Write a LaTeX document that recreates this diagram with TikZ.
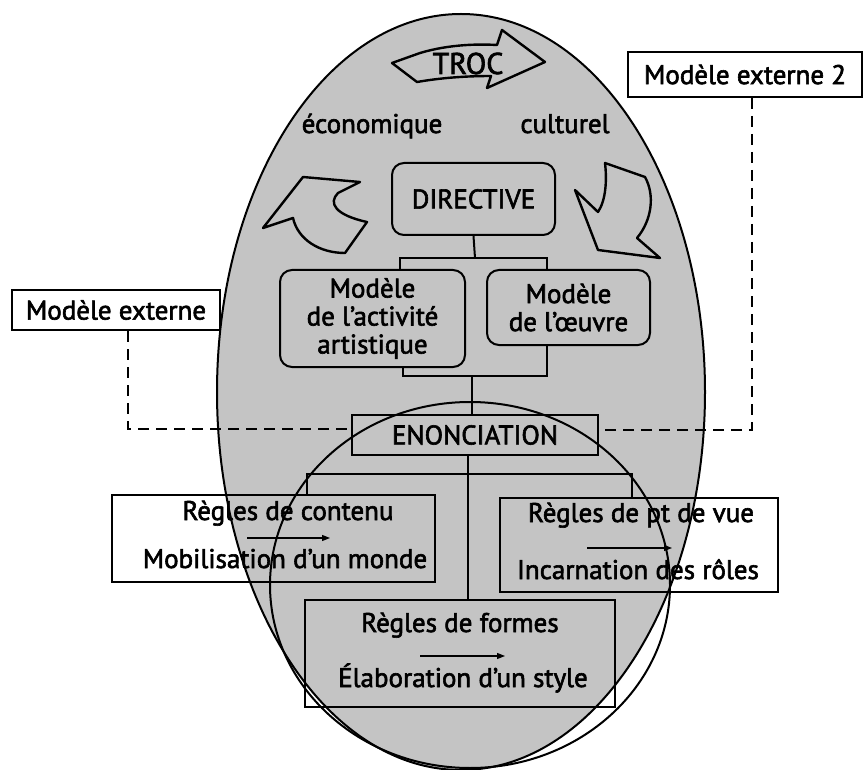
\documentclass[tikz,border=0pt]{standalone}
\usepackage{fontspec}
\setmainfont{PT Sans}
\newfontfamily\dfont{PT Sans}[FakeBold=2.2]
\usetikzlibrary{arrows.meta}
\definecolor{egg}{RGB}{196,196,196}
\begin{document}
\begin{tikzpicture}[x=1pt,y=-1pt,
  line width=2pt,
  txt/.style={font=\dfont\fontsize{27}{29}\selectfont, inner sep=0pt},
  rbox/.style={draw, rounded corners=12pt, fill=egg, inner sep=0pt, align=center, font=\dfont\fontsize{27}{28}\selectfont},
  sbox/.style={draw, inner sep=0pt, font=\dfont\fontsize{27}{28}\selectfont},
  dashline/.style={dash pattern=on 11pt off 7pt, line width=2.2pt},
  bigarrow/.style={draw, fill=egg, line width=2.4pt, line join=round},
  smallarr/.style={-{Triangle[length=8pt,width=6pt]}, line width=1.3pt}
]
\useasboundingbox (0,0) rectangle (865,770);
% big egg
\fill[egg] (461,392) ellipse [x radius=244pt, y radius=378pt];
% curved arrows
\path[bigarrow] (392,63) -- (420,53) .. controls (450,44) and (480,44) .. (497,45) -- (502,30) -- (545,62) -- (487,88) -- (491,76) .. controls (465,76) and (440,78) .. (417,82) -- cycle;
\path[bigarrow] (263,228) -- (303,177) -- (360,182) -- (338,193) .. controls (328,203) and (335,215) .. (367,222) -- (345,253) .. controls (320,253) and (298,240) .. (293,218) -- cycle;
\path[bigarrow] (575,190) -- (598,212) .. controls (606,200) and (607,180) .. (605,163) -- (645,177) .. controls (655,195) and (652,220) .. (637,238) -- (660,258) -- (598,250) -- cycle;
\node[txt, font=\dfont\fontsize{30}{30}\selectfont, anchor=base] (troc) at (468,74) {TROC};
\node[txt, anchor=base] (eco) at (372,133) {économique};
\node[txt, anchor=base] (cult) at (565,133) {culturel};
% bracket lines
\coordinate (bt) at (475,258);
\coordinate (tl) at (400,258);
\coordinate (tr) at (547,258);
\coordinate (bl) at (403,376);
\coordinate (br) at (547,376);
\coordinate (bm) at (472,376);
\node[rbox, minimum width=163pt, minimum height=72pt] (dir) at (473.5,199) {DIRECTIVE};
\node[rbox, minimum width=185pt, minimum height=97pt] (mact) at (372.5,318.5) {Modèle\\de l’activité\\artistique};
\node[rbox, minimum width=163pt, minimum height=75pt] (moeu) at (568.5,307.5) {Modèle\\de l’œuvre};
\draw (dir.south) -- (bt);
\draw (tl |- mact.north) -- (tl) -- (tr) -- (tr |- moeu.north);
\draw (bl |- mact.south) -- (bl) -- (br) -- (br |- moeu.south);
% outline of egg
\draw (461,392) ellipse [x radius=244pt, y radius=378pt];
% external models
\node[sbox, fill=white, minimum width=208pt, minimum height=40pt] (mext) at (116,310) {Modèle externe};
\node[sbox, fill=white, minimum width=234pt, minimum height=45pt] (mext2) at (745,74.5) {Modèle externe 2};
\node[sbox, minimum width=246pt, minimum height=40pt] (enon) at (475,435) {ENONCIATION};
\draw (bm) -- (bm |- enon.north);
\draw[dashline] ([xshift=12pt]mext.south) |- ([yshift=6pt]enon.west);
\draw[dashline] ([xshift=7pt]mext2.south) |- ([yshift=5pt]enon.east);
% rule boxes
\node[sbox, minimum width=323pt, minimum height=87pt] (cont) at (273.5,538.5) {};
\node[sbox, minimum width=278pt, minimum height=94pt] (pdv) at (639,545) {};
\node[sbox, minimum width=310pt, minimum height=107pt] (form) at (460,653.5) {};
\coordinate (ev) at (468,0);
\coordinate (hl) at (307,474);
\coordinate (hr) at (632,474);
\draw (ev |- enon.south) -- (ev |- form.north);
\draw (hl |- cont.north) -- (hl) -- (hr) -- (hr |- pdv.north);
% lower ellipse
\draw (470,585) ellipse [x radius=200pt, y radius=183pt];
% texts in rule boxes
\node[txt, anchor=base] (c1) at (288,520) {Règles de contenu};
\node[txt, anchor=base] (c2) at (285,568) {Mobilisation d’un monde};
\coordinate (ca1) at (247,538); \coordinate (ca2) at (330,538);
\draw[smallarr] (ca1) -- (ca2);
\node[txt, anchor=base] (p1) at (641,522) {Règles de pt de vue};
\node[txt, anchor=base] (p2) at (638,579) {Incarnation des rôles};
\coordinate (pa1) at (587,548); \coordinate (pa2) at (672,548);
\draw[smallarr] (pa1) -- (pa2);
\node[txt, anchor=base] (f1) at (460,632) {Règles de formes};
\node[txt, anchor=base] (f2) at (463,687) {Élaboration d’un style};
\coordinate (fa1) at (420,656); \coordinate (fa2) at (505,656);
\draw[smallarr] (fa1) -- (fa2);
\end{tikzpicture}
\end{document}
